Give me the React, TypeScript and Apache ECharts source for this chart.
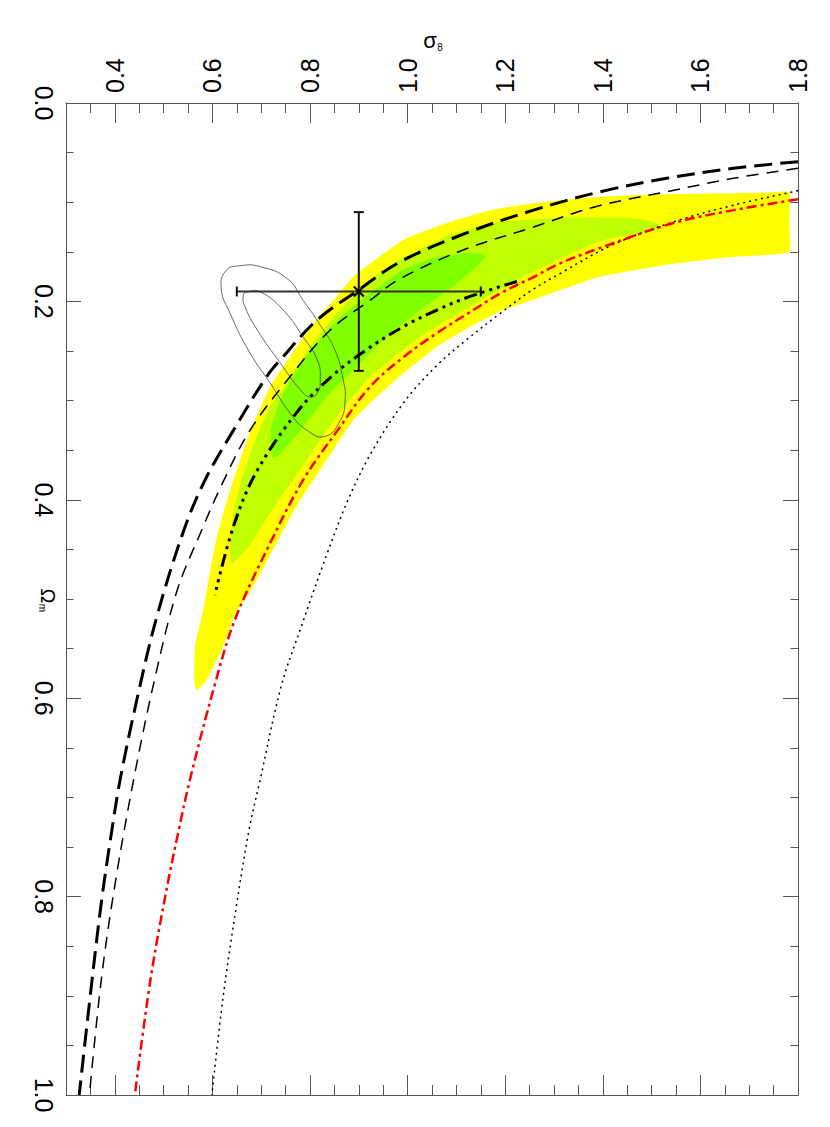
import React, { useEffect, useRef } from 'react';
import * as echarts from 'echarts';

// ---- axis ticks ----
const sigmaMajorTicks = [0.4, 0.6, 0.8, 1.0, 1.2, 1.4, 1.6, 1.8];
const sigmaMinorTicks = [0.35, 0.45, 0.5, 0.55, 0.65, 0.7, 0.75, 0.85, 0.9, 0.95, 1.05, 1.1, 1.15, 1.25, 1.3, 1.35, 1.45, 1.5, 1.55, 1.65, 1.7, 1.75];

// ---- curves: [Omega_m, sigma_8] ----
const curveThickDash = [[0.0592, 1.8], [0.0658, 1.668], [0.0759, 1.531], [0.0894, 1.395], [0.108, 1.258], [0.131, 1.121], [0.16, 0.985], [0.189, 0.898], [0.219, 0.814], [0.2557, 0.745], [0.276, 0.711], [0.33, 0.643], [0.38, 0.585], [0.43, 0.542], [0.518, 0.486], [0.602, 0.445], [0.682, 0.411], [0.733, 0.394], [0.8, 0.374], [0.877, 0.355], [1.0, 0.327]];
const curveThinDash = [[0.0658, 1.8], [0.0759, 1.668], [0.0894, 1.531], [0.1045, 1.385], [0.126, 1.252], [0.148, 1.115], [0.177, 0.985], [0.199, 0.923], [0.229, 0.841], [0.276, 0.759], [0.33, 0.677], [0.385, 0.619], [0.433, 0.576], [0.491, 0.528], [0.578, 0.483], [0.676, 0.441], [0.783, 0.402], [0.881, 0.373], [1.0, 0.348]];
const curveRedDashDot = [[0.097, 1.8], [0.108, 1.668], [0.121, 1.545], [0.146, 1.395], [0.163, 1.306], [0.175, 1.26], [0.192, 1.19], [0.212, 1.124], [0.232, 1.06], [0.2557, 0.993], [0.286, 0.923], [0.3296, 0.857], [0.38, 0.786], [0.444, 0.718], [0.521, 0.646], [0.588, 0.604], [0.682, 0.554], [0.733, 0.531], [0.793, 0.506], [0.884, 0.473], [1.0, 0.441]];
const curveDotted = [[0.0884, 1.8], [0.103, 1.668], [0.119, 1.55], [0.143, 1.42], [0.1717, 1.313], [0.1885, 1.255], [0.212, 1.19], [0.239, 1.12], [0.266, 1.057], [0.3027, 0.991], [0.353, 0.925], [0.40, 0.878], [0.457, 0.833], [0.528, 0.782], [0.588, 0.741], [0.682, 0.698], [0.733, 0.675], [0.807, 0.65], [0.901, 0.622], [1.0, 0.599]];
const curveDashDotDot = [[0.18, 1.224], [0.195, 1.128], [0.2087, 1.06], [0.2255, 0.991], [0.248, 0.918], [0.274, 0.848], [0.31, 0.776], [0.372, 0.69], [0.427, 0.643], [0.496, 0.605]];

// ---- likelihood regions: [Omega_m, sigma_8] ----
const regionOuter = [[0.592, 0.567], [0.582, 0.563], [0.548, 0.564], [0.514, 0.58], [0.481, 0.592], [0.447, 0.605], [0.414, 0.622], [0.38, 0.643], [0.332, 0.677], [0.286, 0.718], [0.256, 0.759], [0.222, 0.807], [0.195, 0.855], [0.175, 0.889], [0.162, 0.923], [0.138, 0.991], [0.121, 1.08], [0.108, 1.169], [0.101, 1.258], [0.0945, 1.395], [0.092, 1.531], [0.091, 1.668], [0.0905, 1.735], [0.09, 1.782], [0.12, 1.782], [0.15, 1.782], [0.155, 1.668], [0.163, 1.531], [0.175, 1.395], [0.1885, 1.313], [0.197, 1.265], [0.2087, 1.196], [0.2255, 1.128], [0.2457, 1.06], [0.2725, 0.991], [0.3027, 0.923], [0.3196, 0.889], [0.3448, 0.854], [0.37, 0.821], [0.405, 0.774], [0.4405, 0.735], [0.4708, 0.702], [0.496, 0.673], [0.514, 0.647], [0.548, 0.622], [0.582, 0.588]];
const regionMiddle = [[0.464, 0.64], [0.447, 0.636], [0.4136, 0.643], [0.38, 0.66], [0.3397, 0.688], [0.306, 0.718], [0.2826, 0.752], [0.2457, 0.8], [0.212, 0.855], [0.1784, 0.923], [0.156, 0.991], [0.133, 1.087], [0.1197, 1.19], [0.1156, 1.326], [0.1162, 1.463], [0.1197, 1.504], [0.1263, 1.525], [0.139, 1.395], [0.157, 1.313], [0.1767, 1.231], [0.2053, 1.128], [0.2356, 1.026], [0.276, 0.923], [0.316, 0.855], [0.372, 0.776], [0.4136, 0.718], [0.447, 0.674]];
const regionInner = [[0.356, 0.722], [0.3296, 0.72], [0.2994, 0.739], [0.269, 0.773], [0.2457, 0.807], [0.219, 0.855], [0.192, 0.923], [0.168, 0.991], [0.155, 1.06], [0.1515, 1.128], [0.153, 1.156], [0.156, 1.159], [0.158, 1.156], [0.182, 1.101], [0.2087, 1.026], [0.2356, 0.957], [0.269, 0.889], [0.296, 0.834], [0.326, 0.787], [0.3465, 0.752], [0.357, 0.731]];

// ---- ellipse contours: [Omega_m, sigma_8] ----
const ellipseOuter = [[0.164, 0.657], [0.165, 0.698], [0.177, 0.753], [0.199, 0.786], [0.224, 0.821], [0.249, 0.851], [0.279, 0.868], [0.299, 0.872], [0.32, 0.862], [0.336, 0.831], [0.33, 0.794], [0.3125, 0.759], [0.282, 0.718], [0.252, 0.677], [0.2117, 0.636], [0.1865, 0.618], [0.169, 0.628]];
const ellipseInner = [[0.1905, 0.671], [0.1905, 0.698], [0.2087, 0.745], [0.2359, 0.786], [0.259, 0.815], [0.279, 0.821], [0.2923, 0.815], [0.2964, 0.8], [0.289, 0.78], [0.262, 0.739], [0.2288, 0.692], [0.2056, 0.667], [0.1946, 0.663]];

// ---- data point with error bars: [sigma_8, Omega_m, sigLo, sigHi, omLo, omHi] ----
const errPoint = [0.9, 0.19, 0.65, 1.15, 0.11, 0.27];

const FONT = '"Liberation Sans", Arial, Helvetica, sans-serif';
const LABEL_FONT = '"Liberation Sans Narrow", "Arial Narrow", "Liberation Sans", Arial, sans-serif';
const FRAME = '#555555';

const toXY = (pts: number[][]) => pts.map(([om, s]) => [s, om]);

function regionSeries(name: string, pts: number[][], color: string, z: number) {
  return {
    type: 'custom',
    name,
    z,
    silent: true,
    clip: true,
    xAxisIndex: 0,
    yAxisIndex: 0,
    data: [[pts[0][1], pts[0][0]]],
    renderItem: (_p: any, api: any) => ({
      type: 'polygon',
      shape: { points: pts.map(([om, s]) => api.coord([s, om])), smooth: 0.15 },
      style: { fill: color, stroke: null },
    }),
  };
}

function contourSeries(name: string, pts: number[][]) {
  return {
    type: 'custom',
    name,
    z: 3,
    silent: true,
    clip: true,
    xAxisIndex: 0,
    yAxisIndex: 0,
    data: [[pts[0][1], pts[0][0]]],
    renderItem: (_p: any, api: any) => ({
      type: 'polygon',
      shape: { points: pts.map(([om, s]) => api.coord([s, om])), smooth: 0.5 },
      style: { fill: 'none', stroke: '#444', lineWidth: 0.8 },
    }),
  };
}

function lineSeries(name: string, pts: number[][], color: string, width: number, dash: any, z = 4) {
  return {
    type: 'line',
    name,
    z,
    xAxisIndex: 0,
    yAxisIndex: 0,
    data: toXY(pts),
    smooth: 0.35,
    symbol: 'none',
    showSymbol: false,
    silent: true,
    lineStyle: { color, width, type: dash, cap: 'butt' },
  };
}

const fmt = (v: number) => v.toFixed(1);

function xAxisDef(position: string, ticks: number[], len: number, line: boolean, labels: boolean) {
  return {
    type: 'value',
    position,
    min: 0.3,
    max: 1.8,
    gridIndex: 0,
    axisLine: { show: line, onZero: false, lineStyle: { color: FRAME, width: 1 } },
    axisTick: { show: true, inside: true, length: len, customValues: ticks, lineStyle: { color: FRAME, width: 1 } },
    axisLabel: labels
      ? { show: true, customValues: ticks, rotate: -90, margin: 10, fontSize: 25, color: '#000', fontFamily: LABEL_FONT, formatter: fmt }
      : { show: false },
    splitLine: { show: false },
  };
}

function yAxisDef(position: string, labels: boolean) {
  return {
    type: 'value',
    position,
    inverse: true,
    min: 0,
    max: 1,
    interval: 0.2,
    gridIndex: 0,
    axisLine: { show: true, onZero: false, lineStyle: { color: FRAME, width: 1 } },
    axisTick: { show: true, inside: true, length: 15, lineStyle: { color: FRAME, width: 1 } },
    minorTick: { show: true, splitNumber: 4, length: 7.5, lineStyle: { color: FRAME, width: 1 } },
    axisLabel: labels
      ? { show: true, rotate: -90, margin: 10, fontSize: 25, color: '#000', fontFamily: LABEL_FONT, formatter: fmt }
      : { show: false },
    splitLine: { show: false },
    minorSplitLine: { show: false },
  };
}

export default function App() {
  const ref = useRef<HTMLDivElement>(null);
  useEffect(() => {
    if (!ref.current) return;
    const chart = echarts.init(ref.current, undefined, { renderer: 'svg' });
    const option: any = {
      animation: false,
      backgroundColor: '#ffffff',
      textStyle: { fontFamily: FONT },
      grid: { left: 66, top: 103, width: 732, height: 992, containLabel: false, outerBoundsMode: 'none' },
      xAxis: [
        xAxisDef('top', sigmaMajorTicks, 20, true, true),
        xAxisDef('top', sigmaMinorTicks, 10, false, false),
        xAxisDef('bottom', sigmaMajorTicks, 20, true, false),
        xAxisDef('bottom', sigmaMinorTicks, 10, false, false),
      ],
      yAxis: [yAxisDef('left', true), yAxisDef('right', false)],
      graphic: [
        { type: 'text', x: 430, y: 40, style: { text: 'σ', font: `22px ${FONT}`, fill: '#000', align: 'center', verticalAlign: 'middle' } },
        { type: 'text', x: 440, y: 47, style: { text: '8', font: `10px ${FONT}`, fill: '#000', align: 'center', verticalAlign: 'middle' } },
        { type: 'text', x: 48, y: 596, rotation: -Math.PI / 2, style: { text: 'Ω', font: `20px ${FONT}`, fill: '#000', align: 'center', verticalAlign: 'middle' } },
        { type: 'text', x: 42, y: 608, rotation: -Math.PI / 2, style: { text: 'm', font: `10px ${FONT}`, fill: '#000', align: 'center', verticalAlign: 'middle' } },
      ],
      series: [
        regionSeries('outer', regionOuter, '#ffff00', 1),
        regionSeries('middle', regionMiddle, '#bfff00', 2),
        regionSeries('inner', regionInner, '#80ff00', 2.5),
        contourSeries('ellipseOuter', ellipseOuter),
        contourSeries('ellipseInner', ellipseInner),
        lineSeries('dotted', curveDotted, '#000', 1.5, [2, 4]),
        lineSeries('redDashDot', curveRedDashDot, '#ff0000', 2.5, [10, 4, 3, 4]),
        lineSeries('thinDash', curveThinDash, '#000', 1.5, [12, 8]),
        lineSeries('thickDash', curveThickDash, '#000', 3, [18, 8]),
        lineSeries('dashDotDot', curveDashDotDot, '#000', 3, [13, 5, 3, 5, 3, 5, 3, 5], 5),
        {
          type: 'custom',
          name: 'errorPoint',
          z: 6,
          silent: true,
          xAxisIndex: 0,
          yAxisIndex: 0,
          data: [errPoint],
          renderItem: (_p: any, api: any) => {
            const c = api.coord([api.value(0), api.value(1)]);
            const l = api.coord([api.value(2), api.value(1)]);
            const r = api.coord([api.value(3), api.value(1)]);
            const t = api.coord([api.value(0), api.value(4)]);
            const b = api.coord([api.value(0), api.value(5)]);
            const cap = 5;
            const m = 5;
            const ln = (x1: number, y1: number, x2: number, y2: number, color = '#111', w = 2) => ({
              type: 'line',
              shape: { x1, y1, x2, y2 },
              style: { stroke: color, lineWidth: w },
            });
            return {
              type: 'group',
              children: [
                ln(l[0], l[1], r[0], r[1], '#333', 2.2),
                ln(l[0], l[1] - cap, l[0], l[1] + cap, '#111', 2),
                ln(r[0], r[1] - cap, r[0], r[1] + cap, '#111', 2),
                ln(t[0], t[1], b[0], b[1], '#111', 2),
                ln(t[0] - cap, t[1], t[0] + cap, t[1], '#111', 2),
                ln(b[0] - cap, b[1], b[0] + cap, b[1], '#111', 2),
                ln(c[0] - m, c[1] - m, c[0] + m, c[1] + m, '#000', 2),
                ln(c[0] - m, c[1] + m, c[0] + m, c[1] - m, '#000', 2),
              ],
            };
          },
        },
      ],
    };
    chart.setOption(option);
    return () => chart.dispose();
  }, []);
  return <div ref={ref} style={{ position: 'absolute', left: 0, top: 0, width: 830, height: 1127, background: '#fff' }} />;
}
